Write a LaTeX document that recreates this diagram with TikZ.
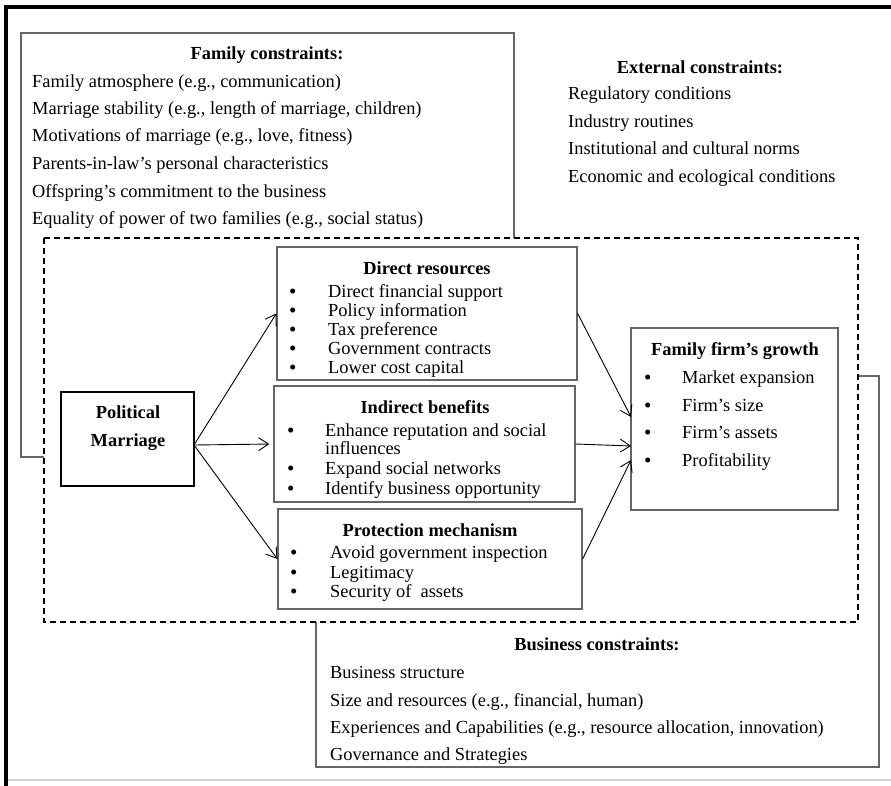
\documentclass[tikz,border=0pt]{standalone}
\usepackage{fontspec}
\setmainfont{Liberation Serif}
\usetikzlibrary{arrows.meta}
\newlength{\du}
\setlength{\du}{1pt}
\definecolor{boxgray}{rgb}{0.400000, 0.400000, 0.400000}
\definecolor{rulegray}{rgb}{0.820000, 0.820000, 0.820000}
\newcommand{\dotmark}{\raisebox{-1.5pt}{\smash{\fontsize{21}{21}\selectfont\textbullet}}}
\tikzset{
  boxline/.style={draw=boxgray, line width=1.3\du},
  blockbox/.style={boxline, rectangle, inner sep=0pt},
  itemtext/.style={anchor=base west, inner sep=0pt, font=\fontsize{18.4}{19}\selectfont},
  headtext/.style={anchor=base, inner sep=0pt, font=\fontsize{18.4}{19}\selectfont\bfseries},
  linkarrow/.style={-{Straight Barb[length=10pt,width=13pt]}, line width=0.9\du, black},
}

\begin{document}
\begin{tikzpicture}
\pgftransformxscale{1.000000}
\pgftransformyscale{-1.000000}
\useasboundingbox (0\du,0\du) rectangle (891\du,786\du);
% page frame
\draw[black, line width=4.5\du] (6\du,786\du)--(6\du,7\du)--(891\du,7\du);
\draw[rulegray, line width=1.5\du] (8\du,780\du)--(891\du,780\du);
% family constraints
\draw[boxline] (44\du,457\du)--(21\du,457\du)--(21\du,33\du)--(514\du,33\du)--(514\du,238\du);
\node[headtext] (fc-head) at (267\du,60\du){Family constraints:};
\node[itemtext] (fc-1) at (32\du,88\du){Family atmosphere (e.g., communication)};
\node[itemtext] (fc-2) at (32\du,115\du){Marriage stability (e.g., length of marriage, children)};
\node[itemtext] (fc-3) at (32\du,142\du){Motivations of marriage (e.g., love, fitness)};
\node[itemtext] (fc-4) at (32\du,170\du){Parents-in-law’s personal characteristics};
\node[itemtext] (fc-5) at (32\du,198\du){Offspring’s commitment to the business};
\node[itemtext] (fc-6) at (32\du,225\du){Equality of power of two families (e.g., social status)};
% external constraints
\node[headtext] (ec-head) at (700\du,74\du){External constraints:};
\node[itemtext] (ec-1) at (568\du,100\du){Regulatory conditions};
\node[itemtext] (ec-2) at (568\du,128\du){Industry routines};
\node[itemtext] (ec-3) at (568\du,155\du){Institutional and cultural norms};
\node[itemtext] (ec-4) at (568\du,183\du){Economic and ecological conditions};
% business constraints
\draw[boxline] (858\du,376\du)--(879\du,376\du)--(879\du,767\du)--(316\du,767\du)--(316\du,622\du);
\node[headtext] (bc-head) at (597\du,650\du){Business constraints:};
\node[itemtext] (bc-1) at (330\du,678\du){Business structure};
\node[itemtext] (bc-2) at (330\du,706\du){Size and resources (e.g., financial, human)};
\node[itemtext] (bc-3) at (330\du,733\du){Experiences and Capabilities (e.g., resource allocation, innovation)};
\node[itemtext] (bc-4) at (330\du,760\du){Governance and Strategies};
% model region
\draw[black, line width=1.6\du, dash pattern=on 6\du off 4\du] (44\du,238\du) rectangle (858\du,622\du);
% political marriage
\node[blockbox, draw=black, line width=1.7\du, minimum width=133\du, minimum height=94\du] (pm) at (127.5\du,439\du){};
\node[headtext] (pm-1) at (128\du,418\du){Political};
\node[headtext] (pm-2) at (128\du,446\du){Marriage};
% direct resources
\node[blockbox, minimum width=300\du, minimum height=133\du] (dr) at (427\du,313.5\du){};
\node[headtext] (dr-head) at (427\du,274\du){Direct resources};
\node[itemtext] (dr-1) at (289\du,297\du){\makebox[39\du][l]{\dotmark}Direct financial support};
\node[itemtext] (dr-2) at (289\du,316\du){\makebox[39\du][l]{\dotmark}Policy information};
\node[itemtext] (dr-3) at (289\du,335\du){\makebox[39\du][l]{\dotmark}Tax preference};
\node[itemtext] (dr-4) at (289\du,354\du){\makebox[39\du][l]{\dotmark}Government contracts};
\node[itemtext] (dr-5) at (289\du,373\du){\makebox[39\du][l]{\dotmark}Lower cost capital};
% indirect benefits
\node[blockbox, minimum width=301\du, minimum height=116\du] (ib) at (424.5\du,444\du){};
\node[headtext] (ib-head) at (425\du,413\du){Indirect benefits};
\node[itemtext] (ib-1) at (287\du,436\du){\makebox[38\du][l]{\dotmark}Enhance reputation and social};
\node[itemtext] (ib-2) at (325\du,454\du){influences};
\node[itemtext] (ib-3) at (287\du,474\du){\makebox[38\du][l]{\dotmark}Expand social networks};
\node[itemtext] (ib-4) at (287\du,494\du){\makebox[38\du][l]{\dotmark}Identify business opportunity};
% protection mechanism
\node[blockbox, minimum width=304\du, minimum height=100\du] (pr) at (430\du,559\du){};
\node[headtext] (pr-head) at (430\du,536\du){Protection mechanism};
\node[itemtext] (pr-1) at (290\du,558\du){\makebox[40\du][l]{\dotmark}Avoid government inspection};
\node[itemtext] (pr-2) at (290\du,578\du){\makebox[40\du][l]{\dotmark}Legitimacy};
\node[itemtext] (pr-3) at (290\du,597\du){\makebox[40\du][l]{\dotmark}Security of\ \ assets};
% family firm's growth
\node[blockbox, minimum width=207\du, minimum height=182\du] (fg) at (734.5\du,419\du){};
\node[headtext] (fg-head) at (735\du,355\du){Family firm’s growth};
\node[itemtext] (fg-1) at (644\du,383\du){\makebox[38\du][l]{\dotmark}Market expansion};
\node[itemtext] (fg-2) at (644\du,411\du){\makebox[38\du][l]{\dotmark}Firm’s size};
\node[itemtext] (fg-3) at (644\du,438\du){\makebox[38\du][l]{\dotmark}Firm’s assets};
\node[itemtext] (fg-4) at (644\du,466\du){\makebox[38\du][l]{\dotmark}Profitability};
% arrows
\coordinate (pmout) at (194\du,445\du);
\coordinate (fgin1) at (631\du,417\du);
\coordinate (fgin2) at (631\du,446\du);
\coordinate (fgin3) at (631\du,460\du);
\draw[linkarrow] (pmout)--(dr.west);
\draw[linkarrow, shorten >=4\du] (pmout)--(ib.west);
\draw[linkarrow] (pmout)--(pr.west);
\draw[linkarrow] (dr.east)--(fgin1);
\draw[linkarrow] (ib.east)--(fgin2);
\draw[linkarrow] (pr.east)--(fgin3);
\end{tikzpicture}
\end{document}
